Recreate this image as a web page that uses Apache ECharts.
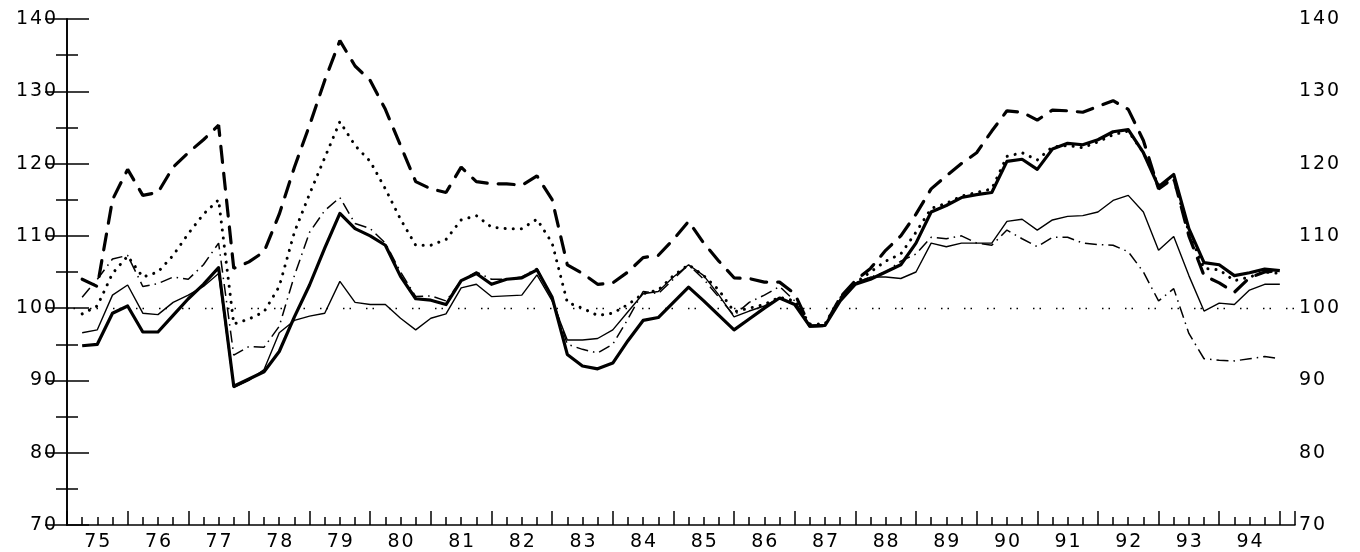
<!DOCTYPE html>
<html>
<head>
<meta charset="utf-8">
<script src="https://cdn.jsdelivr.net/npm/echarts@6/dist/echarts.min.js"></script>
<style>
html,body{margin:0;padding:0;background:#fff;}
#chart{width:1360px;height:552px;}
</style>
</head>
<body>
<div id="chart"></div>
<script>
// Year labels (one per year, 4 quarters each); quarterly observations 1975Q1..1994Q4
const years = ['75','76','77','78','79','80','81','82','83','84','85','86','87','88','89','90','91','92','93','94'];
const yTicks = [70, 80, 90, 100, 110, 120, 130, 140];
const baseline = 100;

// Thick solid line
const seriesA = [
  94.8, 95.0, 99.3, 100.3, 96.7, 96.7, 99.0, 101.3, 103.3, 105.6,
  89.2, 90.2, 91.2, 94.0, 98.8, 103.2, 108.3, 113.1, 111.0, 110.0,
  108.7, 104.4, 101.3, 101.1, 100.5, 103.8, 104.8, 103.3, 104.0, 104.2,
  105.3, 101.5, 93.6, 92.0, 91.6, 92.4, 95.5, 98.3, 98.7, 100.8,
  102.9, 101.0, 99.0, 97.0, 98.5, 100.0, 101.4, 100.5, 97.5, 97.6,
  101.0, 103.3, 104.0, 105.0, 106.0, 109.0, 113.3, 114.2, 115.3, 115.7,
  116.0, 120.3, 120.6, 119.2, 122.0, 122.8, 122.6, 123.3, 124.4, 124.7,
  121.5, 116.8, 118.5, 111.0, 106.3, 106.0, 104.5, 104.9, 105.4, 105.2
];
// Thin solid line
const seriesB = [
  96.6, 97.0, 101.8, 103.2, 99.3, 99.1, 100.8, 101.8, 103.0, 104.8,
  89.0, 90.0, 91.5, 96.6, 98.3, 98.9, 99.3, 103.7, 100.8, 100.5,
  100.5, 98.6, 97.0, 98.6, 99.2, 102.8, 103.3, 101.6, 101.7, 101.8,
  104.6, 101.0, 95.6, 95.6, 95.8, 97.0, 99.5, 102.0, 102.3, 104.3,
  106.0, 104.5, 101.8, 98.8, 99.6, 100.3, 101.4, 100.5, 97.5, 97.6,
  101.3, 103.5, 104.3, 104.3, 104.1, 105.0, 109.0, 108.5, 109.0, 109.0,
  109.0, 112.0, 112.3, 110.8, 112.2, 112.7, 112.8, 113.3, 114.9, 115.6,
  113.3, 108.0, 109.9, 104.5, 99.6, 100.7, 100.5, 102.5, 103.3, 103.3
];
// Thick dashed line
const seriesC = [
  104.0, 103.0, 115.0, 119.2, 115.6, 116.0, 119.5, 121.5, 123.3, 125.3,
  105.5, 106.4, 107.8, 113.0, 119.5, 125.3, 131.5, 137.0, 133.5, 131.5,
  127.5, 122.5, 117.5, 116.5, 116.0, 119.5, 117.5, 117.2, 117.2, 117.0,
  118.3, 115.0, 106.0, 104.8, 103.3, 103.5, 105.0, 107.0, 107.3, 109.5,
  112.0, 109.0, 106.5, 104.2, 104.1, 103.6, 103.6, 102.0, 97.5, 97.6,
  101.5, 103.8, 105.5, 108.0, 110.0, 113.0, 116.5, 118.3, 120.0, 121.5,
  124.5, 127.3, 127.1, 126.0, 127.4, 127.3, 127.1, 127.9, 128.7, 127.5,
  123.2, 116.5, 118.0, 110.0, 104.5, 103.5, 102.2, 104.2, 105.0, 105.2
];
// Dotted line
const seriesD = [
  99.2, 100.3, 104.8, 107.2, 104.3, 105.0, 107.3, 110.3, 113.0, 115.0,
  97.8, 98.5, 99.5, 103.0, 110.5, 115.8, 120.8, 125.8, 122.5, 120.3,
  116.5, 112.3, 108.7, 108.7, 109.5, 112.2, 112.8, 111.2, 111.0, 111.0,
  112.3, 109.0, 100.8, 100.0, 99.0, 99.3, 100.5, 102.0, 102.5, 104.5,
  106.0, 104.5, 102.5, 99.5, 100.0, 100.5, 101.5, 101.0, 97.8, 97.8,
  101.5, 103.5, 105.0, 106.5, 107.5, 110.5, 113.8, 114.5, 115.5, 116.0,
  116.5, 121.0, 121.5, 120.5, 122.3, 122.5, 122.2, 123.0, 124.0, 124.5,
  121.5, 117.0, 117.8, 110.5, 105.5, 105.3, 103.8, 104.3, 105.0, 104.8
];
// Dash-dot line
const seriesE = [
  101.5, 104.0, 106.8, 107.3, 103.0, 103.4, 104.3, 104.0, 106.0, 109.0,
  93.5, 94.7, 94.6, 97.5, 104.5, 110.5, 113.5, 115.3, 111.7, 111.0,
  109.0, 105.0, 101.6, 101.7, 101.0, 103.8, 105.0, 104.0, 104.0, 104.3,
  105.5, 101.5, 95.0, 94.3, 93.8, 95.0, 98.5, 102.3, 102.0, 104.0,
  106.0, 104.0, 101.5, 99.0, 100.8, 101.8, 103.0, 101.0, 97.6, 97.6,
  101.5, 103.5, 104.3, 105.0, 106.5, 107.5, 109.8, 109.6, 110.0, 109.0,
  108.7, 110.8, 109.6, 108.5, 109.8, 109.8, 109.0, 108.8, 108.7, 107.8,
  105.0, 101.0, 102.7, 96.5, 93.0, 92.8, 92.7, 93.0, 93.3, 93.0
];

const FONT = 'DejaVu Sans';
const spaced = s => String(s).split('').join('\u200A');
const toPts = arr => arr.map((v, i) => [i + 1, v]);
const nQ = years.length * 4;

const chart = echarts.init(document.getElementById('chart'), null, {renderer: 'canvas'});

const yAxisCommon = {
  type: 'value',
  min: yTicks[0],
  max: yTicks[yTicks.length - 1],
  interval: 10,
  splitLine: {show: false},
  axisLine: {show: true, lineStyle: {color: '#000', width: 1.6}},
  axisTick: {show: true, inside: true, length: 22, lineStyle: {color: '#000', width: 1.5}},
  minorTick: {show: true, splitNumber: 2, length: 11, lineStyle: {color: '#000', width: 1.5}},
  axisLabel: {
    color: '#000', fontFamily: FONT, fontSize: 19,
    formatter: v => spaced(v)
  }
};

const option = {
  animation: false,
  backgroundColor: '#fff',
  grid: {left: 67, right: 65, top: 19, bottom: 25, containLabel: false},
  xAxis: [
    {
      type: 'value', min: 0, max: nQ + 1, interval: 4,
      splitLine: {show: false},
      axisLine: {show: true, onZero: false, lineStyle: {color: '#000', width: 1.6}},
      axisTick: {show: true, inside: true, length: 14, lineStyle: {color: '#000', width: 1.5}},
      minorTick: {show: true, splitNumber: 4, length: 8, lineStyle: {color: '#000', width: 1.5}},
      axisLabel: {show: false}
    },
    {
      type: 'value', min: 0, max: nQ + 1, interval: 2, position: 'bottom',
      splitLine: {show: false},
      axisLine: {show: false, onZero: false},
      axisTick: {show: false},
      axisLabel: {
        show: true, margin: 8, color: '#000', fontFamily: FONT, fontSize: 19,
        showMinLabel: true, showMaxLabel: true,
        formatter: v => {
          if (v % 4 !== 2) return '';
          const k = (v - 2) / 4;
          return years[k] !== undefined ? spaced(years[k]) : '';
        }
      }
    }
  ],
  yAxis: [
    Object.assign({}, yAxisCommon, {position: 'left', axisLabel: Object.assign({}, yAxisCommon.axisLabel, {margin: 11})}),
    Object.assign({}, yAxisCommon, {position: 'right', axisLabel: Object.assign({}, yAxisCommon.axisLabel, {margin: 4})})
  ],
  series: [
    {
      name: 'dash-dot', type: 'line', data: toPts(seriesE), symbol: 'none', z: 2,
      lineStyle: {color: '#000', width: 1.5, type: [12, 5, 1.5, 5], cap: 'butt'},
      markLine: {
        silent: true, symbol: 'none', label: {show: false},
        lineStyle: {color: '#000', width: 1.3, type: [1.5, 5, 1.5, 15]},
        data: [{yAxis: baseline}]
      }
    },
    {
      name: 'dotted', type: 'line', data: toPts(seriesD), symbol: 'none', z: 3,
      lineStyle: {color: '#000', width: 3, type: [0.1, 8], cap: 'round'}
    },
    {
      name: 'thin', type: 'line', data: toPts(seriesB), symbol: 'none', z: 4,
      lineStyle: {color: '#000', width: 1.4, type: 'solid'}
    },
    {
      name: 'dashed', type: 'line', data: toPts(seriesC), symbol: 'none', z: 5,
      lineStyle: {color: '#000', width: 3.2, type: [16, 11], cap: 'round'}
    },
    {
      name: 'thick', type: 'line', data: toPts(seriesA), symbol: 'none', z: 6,
      lineStyle: {color: '#000', width: 3.2, type: 'solid', join: 'round'}
    }
  ]
};
chart.setOption(option);
</script>
</body>
</html>
